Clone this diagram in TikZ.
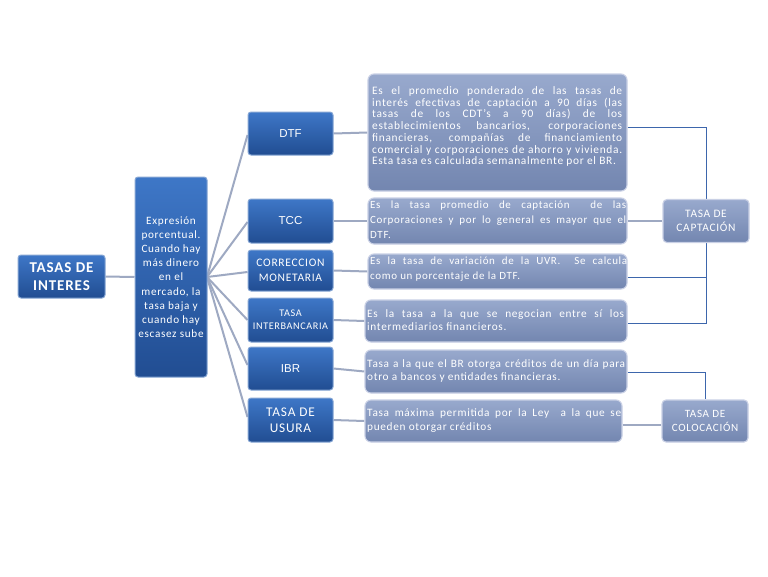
\documentclass[tikz,border=0pt]{standalone}
\usepackage{fontspec}
\usetikzlibrary{backgrounds}
\setmainfont{Carlito}
\newfontfamily\calw{Carlito}[LetterSpace=6]
\newfontfamily\ariw{Liberation Sans}
\definecolor{dkTop}{HTML}{3E77C7}
\definecolor{dkBot}{HTML}{214D92}
\definecolor{dkEdge}{HTML}{86A6D4}
\definecolor{ltTop}{HTML}{98A9CD}
\definecolor{ltBot}{HTML}{7386B0}
\definecolor{ltEdge}{HTML}{C9D0E5}
\definecolor{greyLine}{HTML}{9EA9C2}
\definecolor{blueLine}{HTML}{3D66AC}
\begin{document}
\begin{tikzpicture}[x=1pt,y=-1pt,
  darkbox/.style={rounded corners=3pt, top color=dkTop, bottom color=dkBot,
    draw=dkEdge, line width=1pt, text=white, align=center, inner sep=1pt},
  descbox/.style={rounded corners=6pt, top color=ltTop, bottom color=ltBot,
    draw=ltEdge, line width=1.1pt, inner sep=0pt},
  desctext/.style={anchor=base west, inner sep=0pt, text=white},
  greyconn/.style={draw=greyLine, line width=2pt},
  blueconn/.style={draw=blueLine, line width=0.9pt}]
\useasboundingbox (0,0) rectangle (768,576);

% main boxes
\node[darkbox, minimum width=87pt, minimum height=43pt, font=\calw\fontsize{15}{18}\bfseries] (tasas) at (61.5,276.5) {TASAS DE\\INTERES};
\node[darkbox, minimum width=72pt, minimum height=200pt, font=\calw\fontsize{11.2}{14.2}\selectfont] (expr) at (171,277) {Expresión\\porcentual.\\Cuando hay\\más dinero\\en el\\mercado, la\\tasa baja y\\cuando hay\\escasez sube};

\node[darkbox, minimum width=85pt, minimum height=43pt, font=\ariw\fontsize{11.5}{13}\selectfont] (dtf) at (290.5,133.5) {DTF};
\node[darkbox, minimum width=85pt, minimum height=44pt, font=\ariw\fontsize{11.5}{13}\selectfont] (tcc) at (290.5,221) {TCC};
\node[darkbox, minimum width=85pt, minimum height=41pt, font=\calw\fontsize{11.5}{15}\selectfont] (corr) at (290.5,270.5) {CORRECCION\\MONETARIA};
\node[darkbox, minimum width=85pt, minimum height=44pt, font=\calw\fontsize{10.2}{13}\selectfont] (inter) at (290.5,320) {TASA\\INTERBANCARIA};
\node[darkbox, minimum width=85pt, minimum height=43pt, font=\ariw\fontsize{11.5}{13}\selectfont] (ibr) at (290.5,368.5) {IBR};
\node[darkbox, minimum width=85pt, minimum height=44pt, font=\calw\fontsize{13.3}{15.5}\selectfont] (usura) at (290.5,420) {TASA DE\\USURA};

% description boxes
\node[descbox, minimum width=259pt, minimum height=117pt] (dtfd) at (497.5,132.5) {};
\node[descbox, minimum width=259pt, minimum height=46pt] (tccd) at (497.5,221) {};
\node[descbox, minimum width=259pt, minimum height=35pt] (corrd) at (497.5,271.5) {};
\node[descbox, minimum width=262pt, minimum height=42pt] (interd) at (496,321) {};
\node[descbox, minimum width=262pt, minimum height=43pt] (ibrd) at (496,371.5) {};
\node[descbox, minimum width=257pt, minimum height=42pt] (usurad) at (493.5,421) {};

\node[desctext, font=\calw\fontsize{11.4}{11.7}\selectfont] (dtft) at (372,94.5) {\parbox[t]{250pt}{Es el promedio ponderado de las tasas de\linebreak interés efectivas de captación a 90 días (las\linebreak tasas de los CDT’s a 90 días) de los\linebreak establecimientos bancarios, corporaciones\linebreak financieras, compañías de financiamiento\linebreak comercial y corporaciones de ahorro y vivienda.\linebreak Esta tasa es calculada semanalmente por el BR.}};
\node[desctext, font=\calw\fontsize{11}{15}\selectfont] (tcct) at (370,208) {\parbox[t]{256pt}{Es la tasa promedio de captación \ de las\linebreak Corporaciones y por lo general es mayor que el\linebreak DTF.}};
\node[desctext, font=\calw\fontsize{11}{15}\selectfont] (corrt) at (370,264.5) {\parbox[t]{257pt}{Es la tasa de variación de la UVR. \ Se calcula\linebreak como un porcentaje de la DTF.}};
\node[desctext, font=\calw\fontsize{11.3}{13.5}\selectfont] (intert) at (367,317) {\parbox[t]{257pt}{Es la tasa a la que se negocian entre sí los\linebreak intermediarios financieros.}};
\node[desctext, font=\calw\fontsize{11.3}{13.3}\selectfont] (ibrt) at (367,367) {\parbox[t]{258pt}{Tasa a la que el BR otorga créditos de un día para\linebreak otro a bancos y entidades financieras.}};
\node[desctext, font=\calw\fontsize{11.3}{14}\selectfont] (usurat) at (367,416) {\parbox[t]{254pt}{Tasa máxima permitida por la Ley \ a la que se\linebreak pueden otorgar créditos}};

% right boxes
\node[descbox, rounded corners=4pt, minimum width=86pt, minimum height=43pt, text=white, align=center, font=\calw\fontsize{11.4}{14}\selectfont] (capt) at (706,221) {TASA DE\\CAPTACIÓN};
\node[descbox, rounded corners=4pt, minimum width=86pt, minimum height=42pt, text=white, align=center, font=\calw\fontsize{11.1}{14}\selectfont] (coloc) at (705,421) {TASA DE\\COLOCACIÓN};

% connectors
\begin{scope}[on background layer]
\fill[white] (0,0) rectangle (768,576);
\coordinate (fan) at (207,277);
\draw[greyconn] (tasas.east) -- (expr.west);
\foreach \n/\y in {dtf/135, tcc/222, corr/272, inter/320, ibr/365, usura/417}
  \draw[greyconn] (fan) -- (\n.west |- 0,\y);
\draw[greyconn] (dtf.east) -- (dtfd.west);
\draw[greyconn] (tcc.east) -- (tccd.west);
\draw[greyconn] (corr.east) -- (corrd.west);
\draw[greyconn] (inter.east) -- (interd.west);
\draw[greyconn] (ibr.east) -- (ibrd.west);
\draw[greyconn] (usura.east) -- (usurad.west);
\draw[greyconn] (tccd.east) -- (capt.west);
\draw[greyconn] (usurad.east |- 0,425) -- (coloc.west |- 0,425);
\draw[blueconn] (dtfd.east |- 0,127) -| (capt.north);
\draw[blueconn] (corrd.east |- 0,277) -| (capt.south);
\draw[blueconn] (interd.east |- 0,323) -| (capt.south);
\draw[blueconn] (ibrd.east |- 0,372.5) -| (coloc.north);
\end{scope}
\end{tikzpicture}
\end{document}
